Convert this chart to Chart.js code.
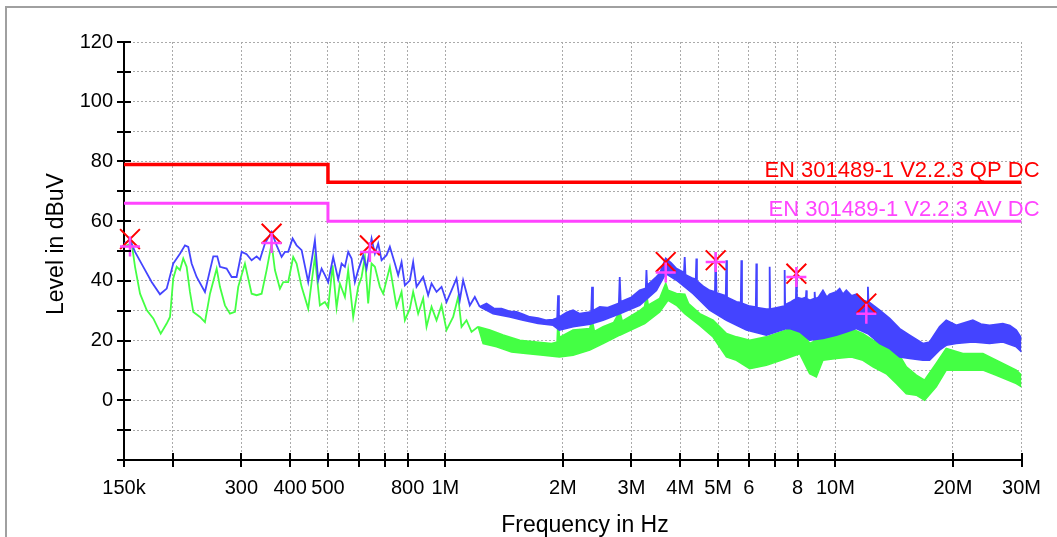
<!DOCTYPE html>
<html>
<head>
<meta charset="utf-8">
<script src="https://cdn.jsdelivr.net/npm/chart.js@4.4.1/dist/chart.umd.min.js"></script>
<style>
    html, body { margin: 0; padding: 0; background: #fff; }
    canvas { display: block; }
</style>
</head>
<body>
<canvas id="EmiChart" width="1057" height="537"></canvas>
<script>
// frequencies in MHz, levels in dBuV

// axis ticks
const xTicks = [0.15, 0.2, 0.3, 0.4, 0.5, 0.6, 0.7, 0.8, 1, 2, 3, 4, 5, 6, 7, 8, 10, 20, 30];
const xTickLabels = ['150k', '', '300', '400', '500', '', '', '800', '1M', '2M', '3M', '4M', '5M', '6', '', '8', '10M', '20M', '30M'];
const yLabelled = [0, 20, 40, 60, 80, 100, 120];

// limit lines
const qpName = 'EN 301489-1 V2.2.3 QP DC';
const avName = 'EN 301489-1 V2.2.3 AV DC';
const limitFreq = [0.15, 0.5, 0.5, 30];
const qpLimit = [79, 79, 73, 73];
const avLimit = [66, 66, 60, 60];

// final measurement markers
const markerFreq = [0.1554, 0.3585, 0.6404, 3.672, 4.932, 7.94, 12.0];
const qpMarks = [54.0, 55.8, 51.9, 46.3, 46.9, 42.4, 32.4];
const avMarks = [51.5, 52.7, 49.7, 42.8, 46.3, 41.3, 29.0];

// peak trace (blue) below 1.2 MHz
const peakFreq = [0.150, 0.1554, 0.1601, 0.1681, 0.1766, 0.1855, 0.1930, 0.2006, 0.2087, 0.2150,
    0.2192, 0.2236, 0.2303, 0.2419, 0.2492, 0.2541, 0.2601, 0.2643, 0.2749, 0.2832,
    0.2916, 0.3004, 0.3094, 0.3186, 0.3282, 0.3346, 0.3447, 0.3585, 0.3693, 0.3803,
    0.3878, 0.3954, 0.4058, 0.4155, 0.4280, 0.4450, 0.4629, 0.4720, 0.4816, 0.4911,
    0.5007, 0.5157, 0.5312, 0.5419, 0.5526, 0.5634, 0.5748, 0.5862, 0.5977, 0.6156,
    0.6280, 0.6468, 0.6596, 0.6726, 0.6862, 0.7067, 0.7206, 0.7422, 0.7568, 0.7721,
    0.7873, 0.8109, 0.8268, 0.8435, 0.8771, 0.9033, 0.9216, 0.9492, 0.9776, 1.0068,
    1.0370, 1.0680, 1.0890, 1.1105, 1.1552, 1.1898, 1.2254];
const peakLevel = [52.5, 53.6, 49.7, 44.7, 39.6, 35.5, 37.4, 45.8, 49.1, 51.9,
    51.4, 45.8, 41.3, 36.3, 43.6, 48.2, 48.2, 44.7, 44.1, 41.3,
    41.3, 49.7, 48.9, 46.9, 48.2, 47.1, 52.5, 56.4, 51.9, 48.0,
    49.7, 49.7, 54.2, 51.9, 50.3, 39.6, 53.6, 40.2, 44.1, 41.9,
    39.6, 48.0, 40.5, 45.8, 44.7, 49.7, 47.5, 39.6, 43.6, 48.6,
    44.1, 54.2, 49.1, 52.5, 46.9, 48.6, 51.4, 45.8, 41.9, 46.3,
    38.5, 40.2, 46.3, 38.0, 41.3, 35.2, 39.1, 36.3, 38.0, 32.9,
    36.8, 40.8, 33.5, 40.2, 31.8, 34.6, 31.3];

// peak trace above 1.2 MHz: upper and lower edge of the noise band
const peakHiFreq = [1.2254, 1.2748, 1.33, 1.3928, 1.46, 1.5216, 1.5822, 1.646, 1.7286, 1.8164,
    1.8885, 1.935, 1.9451, 1.955, 2.05, 2.125, 2.211, 2.365, 2.377, 2.39,
    2.488, 2.6, 2.785, 2.799, 2.815, 3.0, 3.15, 3.265, 3.277, 3.29,
    3.476, 3.544, 3.672, 3.79, 3.911, 4.09, 4.1075, 4.125, 4.3136, 4.385,
    4.4007, 4.415, 4.6, 4.76, 4.91, 4.932, 4.955, 5.235, 5.2532, 5.272,
    5.5725, 5.72, 5.7393, 5.76, 6.0275, 6.25, 6.2702, 6.29, 6.6513, 6.76,
    6.7823, 6.805, 7.1, 7.39, 7.41, 7.43, 7.7, 7.92, 7.94, 7.965,
    8.2, 8.4, 8.422, 8.445, 8.6, 8.82, 8.845, 8.87, 9.05, 9.289,
    9.5, 9.663, 10.053, 10.251, 10.45, 10.664, 11.0, 11.312, 11.8, 12.08,
    12.114, 12.15, 12.979, 13.767, 14.604, 15.491, 16.757, 17.433, 18.492, 19.237,
    20.407, 21.5, 22.503, 23.6, 24.839, 26.865, 28.0, 29.074, 30];
const peakHiLevel = [31.3, 32.4, 30.8, 30.7, 29.8, 29.6, 28.8, 27.9, 27.5, 26.8,
    27.0, 27.5, 35.2, 27.8, 29.5, 30.2, 29.0, 29.6, 38.0, 30.0,
    31.3, 31.0, 32.5, 41.3, 33.0, 34.5, 36.8, 37.5, 43.6, 38.5,
    41.3, 42.5, 47.5, 46.0, 44.1, 42.8, 48.0, 42.0, 40.8, 40.5,
    47.5, 40.0, 38.0, 36.8, 36.3, 49.7, 36.0, 35.0, 46.9, 34.5,
    33.0, 32.7, 46.9, 32.5, 31.5, 31.2, 45.8, 31.0, 30.5, 30.5,
    44.7, 30.5, 31.0, 31.5, 43.6, 32.0, 33.0, 34.0, 42.4, 34.5,
    34.0, 34.5, 36.8, 34.0, 33.5, 34.0, 36.3, 34.0, 34.5, 36.8,
    34.5, 35.5, 36.3, 37.4, 35.5, 36.8, 35.0, 35.5, 33.5, 33.0,
    38.0, 33.0, 30.2, 27.4, 24.0, 21.8, 19.0, 19.5, 24.6, 26.8,
    25.1, 26.0, 26.8, 25.5, 25.1, 25.7, 25.0, 23.5, 20.7];
const peakLoFreq = [1.2254, 1.3255, 1.4627, 1.5822, 1.7286, 1.8885, 1.96, 2.125, 2.35, 2.537,
    2.8, 3.15, 3.476, 3.672, 3.911, 4.3136, 4.76, 5.2532, 5.9111, 6.6513,
    7.4846, 7.632, 8.096, 8.588, 9.289, 10.053, 10.664, 11.312, 12.114, 12.979,
    13.767, 14.604, 15.491, 16.757, 17.433, 18.492, 19.237, 20.407, 22.503, 24.839,
    26.865, 29.074, 30];
const peakLoLevel = [31.3, 29.0, 27.9, 26.8, 25.7, 25.1, 23.5, 24.6, 25.5, 26.8,
    29.0, 31.8, 36.8, 42.4, 40.2, 35.7, 30.2, 26.8, 23.5, 21.8,
    24.0, 24.0, 22.9, 20.1, 20.7, 21.8, 22.9, 24.0, 22.3, 19.0,
    17.3, 14.5, 14.0, 13.4, 13.4, 16.8, 18.4, 19.0, 19.5, 19.0,
    19.5, 17.9, 16.2];

// average trace (green) below 1.2 MHz
const avgFreq = [0.150, 0.1570, 0.1601, 0.1649, 0.1715, 0.1783, 0.1863, 0.1930, 0.1968, 0.2006,
    0.2047, 0.2087, 0.2128, 0.2171, 0.2214, 0.2258, 0.2349, 0.2419, 0.2492, 0.2592,
    0.2643, 0.2722, 0.2804, 0.2888, 0.2944, 0.3063, 0.3186, 0.3282, 0.3380, 0.3481,
    0.3585, 0.3656, 0.3766, 0.3840, 0.3954, 0.4073, 0.4155, 0.4280, 0.4450, 0.4629,
    0.4768, 0.4911, 0.5007, 0.5139, 0.5261, 0.5365, 0.5526, 0.5634, 0.5803, 0.5977,
    0.6098, 0.6218, 0.6340, 0.6468, 0.6596, 0.6793, 0.6927, 0.7206, 0.7497, 0.7721,
    0.7873, 0.8109, 0.8268, 0.8516, 0.8771, 0.8948, 0.9216, 0.9492, 0.9776, 1.0068,
    1.0470, 1.0782, 1.1000, 1.1329, 1.1669, 1.2133];
const avgLevel = [51.5, 52.5, 44.7, 35.7, 30.2, 27.4, 22.3, 25.7, 27.9, 40.8,
    44.7, 43.6, 47.5, 44.7, 36.3, 29.6, 27.9, 26.2, 35.7, 44.1,
    38.0, 31.8, 29.0, 29.6, 38.0, 45.8, 35.7, 35.2, 35.7, 43.6,
    52.5, 43.6, 37.4, 39.6, 39.6, 48.0, 45.8, 38.0, 30.7, 48.0,
    31.8, 32.9, 31.1, 45.2, 31.0, 39.1, 34.6, 43.6, 27.9, 38.0,
    41.3, 48.0, 32.4, 45.8, 44.7, 38.0, 35.7, 44.7, 31.3, 36.3,
    26.8, 30.7, 36.3, 29.0, 34.1, 24.6, 31.3, 26.8, 31.8, 23.5,
    27.9, 34.6, 24.6, 26.8, 22.9, 24.6];

// average trace above 1.2 MHz: upper and lower edge of the noise band
const avgHiFreq = [1.2133, 1.30, 1.4061, 1.5518, 1.7122, 1.8706, 1.935, 1.9451, 1.96, 2.125,
    2.345, 2.377, 2.41, 2.537, 2.7, 2.799, 2.84, 3.15, 3.244, 3.277,
    3.31, 3.544, 3.672, 3.722, 3.911, 4.1075, 4.2, 4.4874, 4.8539, 5.2532,
    5.5725, 6.0275, 6.6513, 7.4846, 7.632, 8.096, 8.3, 8.588, 8.934, 9.289,
    10.053, 10.983, 11.761, 12.476, 13.501, 14.322, 15.194, 16.116, 16.926, 18.132,
    19.237, 21.215, 23.877, 25.838, 29.074, 30];
const avgHiLevel = [24.6, 23.5, 21.8, 20.1, 19.5, 19.0, 19.5, 26.8, 21.0, 23.5,
    24.0, 26.8, 23.0, 24.6, 26.0, 29.6, 26.5, 30.0, 31.3, 35.7,
    31.8, 34.1, 39.1, 36.8, 35.7, 35.5, 32.4, 29.0, 26.8, 22.3,
    21.2, 20.1, 21.2, 23.5, 24.0, 25.7, 22.0, 19.0, 20.1, 21.8,
    22.9, 24.0, 22.3, 20.1, 19.0, 16.8, 11.2, 8.4, 6.7, 12.3,
    17.3, 15.6, 15.6, 13.4, 10.1, 8.4];
const avgLoFreq = [1.2133, 1.2496, 1.3524, 1.4775, 1.6296, 1.7803, 1.96, 2.125, 2.345, 2.537,
    2.799, 3.244, 3.544, 3.722, 3.911, 4.1075, 4.4874, 4.8539, 5.2532, 5.5725,
    6.0275, 6.6513, 7.4846, 8.096, 8.588, 8.934, 9.289, 10.053, 10.983, 11.761,
    12.476, 13.501, 14.322, 15.194, 16.116, 16.926, 18.132, 19.237, 21.215, 23.877,
    25.838, 29.074, 30];
const avgLoLevel = [24.6, 19.0, 17.9, 16.2, 15.6, 15.1, 14.5, 15.1, 16.8, 19.0,
    21.8, 25.7, 29.6, 33.5, 31.8, 29.0, 25.1, 21.2, 14.5, 13.4,
    10.6, 11.7, 14.0, 15.6, 8.9, 7.8, 13.4, 14.0, 14.5, 13.4,
    11.2, 8.9, 5.6, 2.2, 1.7, 0.0, 4.5, 10.1, 10.1, 10.1,
    8.4, 5.6, 4.5];

// colours
const peakColor = '#4444ff';
const avgColor = '#44ff44';
const qpColor = '#ff0000';
const avColor = '#ff44ff';

// Helper function
const toPoints = (xs, ys) => xs.map((x, i) => ({x: x, y: ys[i]}));

Chart.defaults.font.family = '"Liberation Sans", Arial, sans-serif';
Chart.defaults.color = '#000';

// frame, crossing tick marks, limit names and axis titles
const emiDecor = {
    id: 'emiDecor',
    beforeDraw(chart) {
        const ctx = chart.ctx;
        ctx.save();
        ctx.fillStyle = '#fff';
        ctx.fillRect(0, 0, chart.width, chart.height);
        ctx.strokeStyle = '#a0a0a0';
        ctx.lineWidth = 2;
        ctx.beginPath();
        ctx.moveTo(6, chart.height);
        ctx.lineTo(6, 7);
        ctx.lineTo(chart.width, 7);
        ctx.stroke();
        ctx.restore();
    },
    afterDraw(chart) {
        const {ctx, chartArea, scales} = chart;
        const x = scales.x;
        const y = scales.y;
        ctx.save();
        ctx.strokeStyle = '#000';
        ctx.lineWidth = 2;
        ctx.beginPath();
        x.ticks.forEach(t => {
            const px = Math.round(x.getPixelForValue(t.value));
            ctx.moveTo(px, chartArea.bottom - 7);
            ctx.lineTo(px, chartArea.bottom + 7);
        });
        y.ticks.forEach(t => {
            const py = Math.round(y.getPixelForValue(t.value));
            ctx.moveTo(chartArea.left - 7, py);
            ctx.lineTo(chartArea.left + 7, py);
        });
        ctx.stroke();

        ctx.font = '22px "Liberation Sans", Arial, sans-serif';
        ctx.textAlign = 'right';
        ctx.textBaseline = 'alphabetic';
        ctx.fillStyle = qpColor;
        ctx.fillText(qpName, chartArea.right + 18, y.getPixelForValue(qpLimit[3]) - 5);
        ctx.fillStyle = avColor;
        ctx.fillText(avName, chartArea.right + 18, y.getPixelForValue(avLimit[3]) - 5);

        ctx.fillStyle = '#000';
        ctx.font = '23px "Liberation Sans", Arial, sans-serif';
        ctx.textAlign = 'center';
        ctx.textBaseline = 'middle';
        ctx.fillText('Frequency in Hz', 585, 526);
        ctx.translate(57, 244);
        ctx.rotate(-Math.PI / 2);
        ctx.fillText('Level in dBuV', 0, 0);
        ctx.restore();
    }
};

const lineSet = (data, color, width, extra) => Object.assign({
    data: data,
    borderColor: color,
    backgroundColor: color,
    borderWidth: width,
    pointRadius: 0,
    fill: false
}, extra || {});

const ctx1 = document.getElementById('EmiChart');
const EmiChart = new Chart(ctx1, {
    type: 'line',
    data: {
        datasets: [
            {
                data: toPoints(markerFreq, avMarks),
                showLine: false,
                pointStyle: 'cross',
                pointRadius: 10,
                pointBorderColor: avColor,
                pointBorderWidth: 2.5,
                clip: false
            },
            {
                data: toPoints(markerFreq, qpMarks),
                showLine: false,
                pointStyle: 'crossRot',
                pointRadius: 14,
                pointBorderColor: qpColor,
                pointBorderWidth: 2,
                clip: false
            },
            lineSet(toPoints(limitFreq, qpLimit), qpColor, 3.5),
            lineSet(toPoints(limitFreq, avLimit), avColor, 3),
            lineSet(toPoints(peakFreq, peakLevel), peakColor, 1.8),
            lineSet(toPoints(peakHiFreq, peakHiLevel), peakColor, 1.8, {fill: '+1'}),
            lineSet(toPoints(peakLoFreq, peakLoLevel), peakColor, 1.5),
            lineSet(toPoints(avgFreq, avgLevel), avgColor, 1.8),
            lineSet(toPoints(avgHiFreq, avgHiLevel), avgColor, 1.8, {fill: '+1'}),
            lineSet(toPoints(avgLoFreq, avgLoLevel), avgColor, 1.5)
        ]
    },
    options: {
        responsive: false,
        animation: false,
        devicePixelRatio: 1,
        layout: {
            padding: {left: 0, right: 35, top: 42, bottom: 0}
        },
        elements: {
            line: {tension: 0}
        },
        plugins: {
            legend: {display: false},
            tooltip: {enabled: false}
        },
        scales: {
            x: {
                type: 'logarithmic',
                min: 0.15,
                max: 30,
                bounds: 'data',
                afterBuildTicks: scale => {
                    scale.ticks = xTicks.map(v => ({value: v}));
                },
                afterFit: scale => {
                    scale.height = 77;
                },
                ticks: {
                    autoSkip: false,
                    maxRotation: 0,
                    padding: 16,
                    font: {size: 20},
                    callback: (v, i) => xTickLabels[i]
                },
                grid: {color: '#aaaaaa', lineWidth: 1, drawTicks: false},
                border: {color: '#000', width: 2, dash: [2, 2]}
            },
            y: {
                min: -20,
                max: 120,
                afterFit: scale => {
                    scale.width = 124;
                },
                ticks: {
                    stepSize: 10,
                    autoSkip: false,
                    padding: 11,
                    font: {size: 20},
                    callback: v => yLabelled.includes(v) ? v : ''
                },
                grid: {color: '#aaaaaa', lineWidth: 1, drawTicks: false},
                border: {color: '#000', width: 2, dash: [2, 2]}
            }
        }
    },
    plugins: [emiDecor]
});
</script>
</body>
</html>
